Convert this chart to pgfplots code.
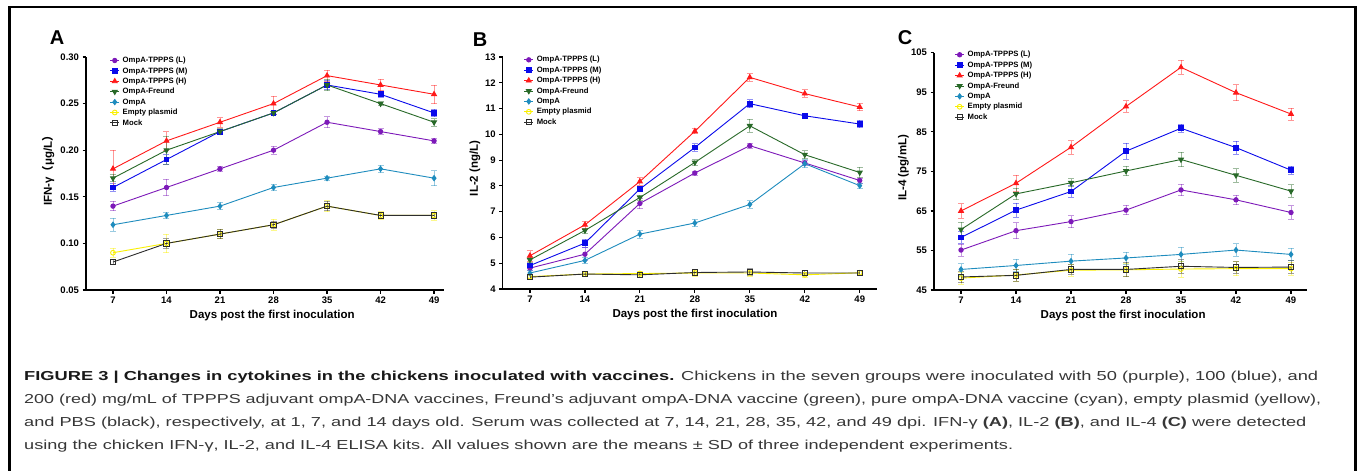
\documentclass[border=0pt]{standalone}
\usepackage{pgfplots}
\pgfplotsset{compat=1.18}
\usepackage{fontspec}
\usepackage{graphicx}
\setmainfont{Liberation Sans}
\newfontfamily\cjk{Noto Sans CJK SC}
\definecolor{cL}{RGB}{125,25,185}
\definecolor{cM}{RGB}{10,10,235}
\definecolor{cH}{RGB}{255,25,25}
\definecolor{cF}{RGB}{40,105,40}
\definecolor{cO}{RGB}{30,140,190}
\definecolor{cE}{RGB}{250,240,0}
\definecolor{cK}{RGB}{45,45,45}
\definecolor{capgray}{RGB}{55,55,55}
\newcommand{\labfont}{\bfseries\fontsize{11.5}{12}\selectfont}
\pgfplotsset{
  panel/.style={
    scale only axis, anchor=south west, clip=false,
    axis x line*=bottom, axis y line*=left,
    axis line style={line width=1.4pt,-},
    tick align=outside, major tick length=3.5pt,
    tick style={line width=1.2pt,black},
    xtick={7,14,21,28,35,42,49},
    /pgf/number format/assume math mode=true,
    ticklabel style={font=\bfseries\fontsize{9.5}{10}\selectfont},
    xlabel={Days post the first inoculation},
    legend cell align=left,
    legend style={draw=none, fill=none, inner sep=0pt, anchor=north west,
      font=\bfseries\fontsize{7.7}{8}\selectfont,
      nodes={inner sep=1pt, text height=5.8pt, text depth=1.6pt},
      row sep=1pt,
      /tikz/every odd column/.append style={column sep=2pt}},
    legend image code/.code={\draw[mark repeat=2,mark phase=2,#1] plot coordinates {(0pt,0pt) (4.5pt,0pt) (9pt,0pt)};},
    every axis plot/.append style={line width=0.9pt},
    error bars/y dir=both, error bars/y explicit,
    error bars/error bar style={line width=0.8pt, opacity=0.45},
    error bars/error mark options={rotate=90, mark size=3pt, line width=0.8pt},
  },
  sL/.style={color=cL, mark=*, mark size=2.2pt},
  sM/.style={color=cM, mark=square*, mark size=2.4pt},
  sH/.style={color=cH, mark=triangle*, mark size=2.8pt},
  sF/.style={color=cF, mark=triangle*, mark size=2.8pt, mark options={rotate=180}},
  sO/.style={color=cO, mark=diamond*, mark size=2.6pt},
  sE/.style={color=cE, mark=o, mark size=2.4pt},
  sK/.style={color=cK, mark=square, mark size=2.6pt},
}
\begin{document}
\begin{tikzpicture}
\useasboundingbox (0pt,0pt) rectangle (1358pt,-471pt);
\fill[white] (0pt,0pt) rectangle (1358pt,-471pt);
\draw[line width=2.5pt, black] (9.3pt,-471pt) -- (9.3pt,-7pt) -- (1355.3pt,-7pt) -- (1355.3pt,-471pt);

% ---------------- Panel A ----------------
\begin{axis}[panel, at={(86pt,-290pt)}, width=358pt, height=233pt,
  xmin=3.47, xmax=50.3, ymin=0.05, ymax=0.30,
  ytick={0.05,0.10,0.15,0.20,0.25,0.30},
  yticklabel style={/pgf/number format/.cd, fixed, fixed zerofill, precision=2},
  ylabel={IFN-γ{\cjk （}μg/L{\cjk ）}},
  every axis y label/.style={at={(axis description cs:-0.106,0.524)}, rotate=90, anchor=center, font=\labfont},
  every axis x label/.style={at={(axis description cs:0.52,0)}, anchor=center, yshift=-26pt, font=\labfont},
  legend style={at={(0.066,1.006)}}]
\addplot[sL] coordinates {(7,0.14)+-(0,0.005) (14,0.16)+-(0,0.009) (21,0.18)+-(0,0.003) (28,0.20)+-(0,0.004) (35,0.23)+-(0,0.006) (42,0.22)+-(0,0.003) (49,0.21)+-(0,0.003)};
\addlegendentry{OmpA-TPPPS (L)}
\addplot[sM] coordinates {(7,0.16)+-(0,0.004) (14,0.19)+-(0,0.005) (21,0.22)+-(0,0.002) (28,0.24)+-(0,0.002) (35,0.27)+-(0,0.005) (42,0.26)+-(0,0.003) (49,0.24)+-(0,0.004)};
\addlegendentry{OmpA-TPPPS (M)}
\addplot[sH] coordinates {(7,0.18)+-(0,0.02) (14,0.21)+-(0,0.01) (21,0.23)+-(0,0.005) (28,0.25)+-(0,0.008) (35,0.28)+-(0,0.006) (42,0.27)+-(0,0.006) (49,0.26)+-(0,0.01)};
\addlegendentry{OmpA-TPPPS (H)}
\addplot[sF] coordinates {(7,0.17)+-(0,0.004) (14,0.20)+-(0,0.015) (21,0.22)+-(0,0.003) (28,0.24)+-(0,0.002) (35,0.27)+-(0,0.006) (42,0.25)+-(0,0.002) (49,0.23)+-(0,0.004)};
\addlegendentry{OmpA-Freund}
\addplot[sO] coordinates {(7,0.12)+-(0,0.007) (14,0.13)+-(0,0.003) (21,0.14)+-(0,0.004) (28,0.16)+-(0,0.003) (35,0.17)+-(0,0.002) (42,0.18)+-(0,0.004) (49,0.17)+-(0,0.008)};
\addlegendentry{OmpA}
\addplot[sE] coordinates {(7,0.09)+-(0,0.005) (14,0.10)+-(0,0.01) (21,0.11)+-(0,0.005) (28,0.12)+-(0,0.006) (35,0.14)+-(0,0.006) (42,0.13)+-(0,0.004) (49,0.13)+-(0,0.005)};
\addlegendentry{Empty plasmid}
\addplot[sK] coordinates {(7,0.08)+-(0,0.003) (14,0.10)+-(0,0.005) (21,0.11)+-(0,0.005) (28,0.12)+-(0,0.004) (35,0.14)+-(0,0.005) (42,0.13)+-(0,0.003) (49,0.13)+-(0,0.003)};
\addlegendentry{Mock}
\end{axis}

% ---------------- Panel B ----------------
\begin{axis}[panel, at={(502.7pt,-289pt)}, width=374pt, height=232pt,
  xmin=3.53, xmax=51.16, ymin=4, ymax=13,
  ytick={4,5,6,7,8,9,10,11,12,13},
  ylabel={IL-2 (ng/L)},
  every axis y label/.style={at={(axis description cs:-0.074,0.52)}, rotate=90, anchor=center, font=\labfont},
  every axis x label/.style={at={(axis description cs:0.514,0)}, anchor=center, yshift=-26pt, font=\labfont},
  legend style={at={(0.056,1.009)}}]
\addplot[sL] coordinates {(7,4.81)+-(0,0.1) (14,5.35)+-(0,0.25) (21,7.32)+-(0,0.2) (28,8.50)+-(0,0.08) (35,9.56)+-(0,0.1) (42,8.89)+-(0,0.1) (49,8.21)+-(0,0.1)};
\addlegendentry{OmpA-TPPPS (L)}
\addplot[sM] coordinates {(7,4.91)+-(0,0.1) (14,5.78)+-(0,0.15) (21,7.88)+-(0,0.1) (28,9.49)+-(0,0.15) (35,11.19)+-(0,0.15) (42,10.72)+-(0,0.1) (49,10.40)+-(0,0.15)};
\addlegendentry{OmpA-TPPPS (M)}
\addplot[sH] coordinates {(7,5.29)+-(0,0.2) (14,6.49)+-(0,0.15) (21,8.17)+-(0,0.15) (28,10.12)+-(0,0.1) (35,12.21)+-(0,0.15) (42,11.58)+-(0,0.15) (49,11.06)+-(0,0.15)};
\addlegendentry{OmpA-TPPPS (H)}
\addplot[sF] coordinates {(7,5.13)+-(0,0.1) (14,6.27)+-(0,0.1) (21,7.55)+-(0,0.1) (28,8.91)+-(0,0.1) (35,10.33)+-(0,0.25) (42,9.21)+-(0,0.15) (49,8.52)+-(0,0.2)};
\addlegendentry{OmpA-Freund}
\addplot[sO] coordinates {(7,4.62)+-(0,0.1) (14,5.11)+-(0,0.1) (21,6.13)+-(0,0.15) (28,6.56)+-(0,0.15) (35,7.28)+-(0,0.15) (42,8.86)+-(0,0.15) (49,8.01)+-(0,0.1)};
\addlegendentry{OmpA}
\addplot[sE] coordinates {(7,4.48)+-(0,0.1) (14,4.58)+-(0,0.1) (21,4.60)+-(0,0.1) (28,4.62)+-(0,0.12) (35,4.62)+-(0,0.12) (42,4.55)+-(0,0.1) (49,4.63)+-(0,0.1)};
\addlegendentry{Empty plasmid}
\addplot[sK] coordinates {(7,4.46)+-(0,0.1) (14,4.58)+-(0,0.1) (21,4.55)+-(0,0.1) (28,4.64)+-(0,0.12) (35,4.66)+-(0,0.12) (42,4.62)+-(0,0.1) (49,4.62)+-(0,0.1)};
\addlegendentry{Mock}
\end{axis}

% ---------------- Panel C ----------------
\begin{axis}[panel, at={(934pt,-290pt)}, width=373pt, height=237.3pt,
  xmin=3.56, xmax=51.04, ymin=45, ymax=105,
  ytick={45,55,65,75,85,95,105},
  ylabel={IL-4 (pg/mL)},
  every axis y label/.style={at={(axis description cs:-0.082,0.515)}, rotate=90, anchor=center, font=\labfont},
  every axis x label/.style={at={(axis description cs:0.507,0)}, anchor=center, yshift=-26pt, font=\labfont},
  legend style={at={(0.055,1.012)}}]
\addplot[sL] coordinates {(7,55.1)+-(0,1.5) (14,60.0)+-(0,2) (21,62.3)+-(0,1.5) (28,65.2)+-(0,1.2) (35,70.3)+-(0,1.5) (42,67.8)+-(0,1.2) (49,64.6)+-(0,1.7)};
\addlegendentry{OmpA-TPPPS (L)}
\addplot[sM] coordinates {(7,58.3)+-(0,1.5) (14,65.2)+-(0,1.8) (21,69.9)+-(0,1.5) (28,80.1)+-(0,2) (35,85.9)+-(0,1) (42,81.0)+-(0,1.7) (49,75.3)+-(0,1)};
\addlegendentry{OmpA-TPPPS (M)}
\addplot[sH] coordinates {(7,65.0)+-(0,1.8) (14,72.0)+-(0,2) (21,81.1)+-(0,1.7) (28,91.4)+-(0,1.5) (35,101.3)+-(0,1.8) (42,94.9)+-(0,2) (49,89.5)+-(0,1.5)};
\addlegendentry{OmpA-TPPPS (H)}
\addplot[sF] coordinates {(7,60.3)+-(0,1.8) (14,69.3)+-(0,1.5) (21,72.1)+-(0,1) (28,75.1)+-(0,1.2) (35,78.0)+-(0,1.8) (42,74.0)+-(0,1.7) (49,70.0)+-(0,1.6)};
\addlegendentry{OmpA-Freund}
\addplot[sO] coordinates {(7,50.2)+-(0,1.5) (14,51.2)+-(0,1.6) (21,52.3)+-(0,1.8) (28,53.1)+-(0,1.5) (35,54.0)+-(0,1.8) (42,55.1)+-(0,1.6) (49,54.0)+-(0,1.6)};
\addlegendentry{OmpA}
\addplot[sE] coordinates {(7,48.0)+-(0,1.5) (14,48.8)+-(0,1.5) (21,50.0)+-(0,1.5) (28,50.1)+-(0,1.6) (35,50.3)+-(0,2) (42,50.4)+-(0,1.8) (49,50.4)+-(0,1.6)};
\addlegendentry{Empty plasmid}
\addplot[sK] coordinates {(7,48.3)+-(0,1.5) (14,48.7)+-(0,1.5) (21,50.2)+-(0,1.2) (28,50.2)+-(0,1.8) (35,51.0)+-(0,1.7) (42,50.7)+-(0,1.5) (49,50.8)+-(0,1.6)};
\addlegendentry{Mock}
\end{axis}

% panel letters
\node[font=\bfseries\fontsize{20}{20}\selectfont, anchor=center] at (57pt,-38pt) {A};
\node[font=\bfseries\fontsize{20}{20}\selectfont, anchor=center] at (480pt,-40pt) {B};
\node[font=\bfseries\fontsize{20}{20}\selectfont, anchor=center] at (905pt,-38pt) {C};

% caption
\begin{scope}[every node/.style={anchor=base west, inner sep=0pt, text=capgray, font=\fontsize{13}{14}\selectfont}]
\node at (24pt,-380pt) {\resizebox{1294pt}{\height}{{\color{black!90}\bfseries FIGURE 3 | Changes in cytokines in the chickens inoculated with vaccines.} Chickens in the seven groups were inoculated with 50 (purple), 100 (blue), and}};
\node at (24pt,-403pt) {\resizebox{1297pt}{\height}{200 (red) mg/mL of TPPPS adjuvant ompA-DNA vaccines, Freund’s adjuvant ompA-DNA vaccine (green), pure ompA-DNA vaccine (cyan), empty plasmid (yellow),}};
\node at (24pt,-426pt) {\resizebox{1282pt}{\height}{and PBS (black), respectively, at 1, 7, and 14 days old. Serum was collected at 7, 14, 21, 28, 35, 42, and 49 dpi. IFN-γ {\bfseries (A)}, IL-2 {\bfseries (B)}, and IL-4 {\bfseries (C)} were detected}};
\node at (24pt,-449pt) {\resizebox{989pt}{\height}{using the chicken IFN-γ, IL-2, and IL-4 ELISA kits. All values shown are the means ± SD of three independent experiments.}};
\end{scope}
\end{tikzpicture}
\end{document}
